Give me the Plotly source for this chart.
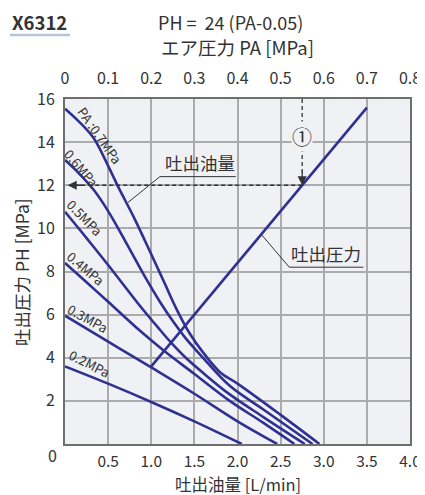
import plotly.graph_objects as go

# ---------------- data ----------------
# discharge flow rate [L/min] vs discharge pressure PH [MPa] for each air pressure PA
flow_07 = [0, 0.15, 0.33, 0.5, 0.62, 0.8, 1.0, 1.15, 1.3, 1.45, 1.6, 1.8, 2.0, 2.5, 2.95]
ph_07 = [15.55, 15.0, 14.2, 12.9, 11.9, 10.5, 8.8, 7.5, 6.2, 5.1, 4.25, 3.32, 2.8, 1.35, 0]

flow_06 = [0, 0.15, 0.33, 0.5, 0.7, 0.95, 1.1, 1.25, 1.4, 1.6, 1.91, 2.3, 2.87]
ph_06 = [13.17, 12.6, 11.8, 10.8, 9.4, 7.6, 6.6, 5.7, 4.9, 4.0, 2.7, 1.6, 0]

flow_05 = [0, 0.25, 0.5, 0.87, 1.1, 1.23, 1.4, 1.6, 1.91, 2.3, 2.78]
ph_05 = [10.77, 9.55, 8.3, 6.4, 5.3, 4.7, 4.0, 3.3, 2.3, 1.25, 0]

flow_04 = [0, 0.25, 0.5, 0.87, 1.14, 1.5, 1.91, 2.3, 2.66]
ph_04 = [8.4, 7.5, 6.6, 5.25, 4.35, 3.25, 2.0, 0.98, 0]

flow_03 = [0, 0.5, 1.0, 1.5, 2.0, 2.46]
ph_03 = [5.95, 4.75, 3.55, 2.33, 1.05, 0]

flow_02 = [0, 0.5, 1.0, 1.5, 2.05]
ph_02 = [3.6, 2.8, 1.95, 1.05, 0]

curve_labels = ["PA :0.7MPa", "0.6MPa", "0.5MPa", "0.4MPa", "0.3MPa", "0.2MPa"]

# discharge pressure line PH = 24 (PA - 0.05), on the top (air pressure) axis
pa_line = [0.2, 0.7]
ph_line = [3.6, 15.6]

# example reading (1): PA 0.55 MPa -> PH 12 MPa
ex_pa = 0.55
ex_ph = 12

bottom_ticks = [0.5, 1.0, 1.5, 2.0, 2.5, 3.0, 3.5, 4.0]
bottom_ticktext = ["0.5", "1.0", "1.5", "2.0", "2.5", "3.0", "3.5", "4.0"]
left_ticks = [2, 4, 6, 8, 10, 12, 14, 16]
top_ticks = [0, 0.1, 0.2, 0.3, 0.4, 0.5, 0.6, 0.7, 0.8]
top_ticktext = ["0", "0.1", "0.2", "0.3", "0.4", "0.5", "0.6", "0.7", "0.8"]

# ---------------- styling ----------------
BLUE = "#2E3192"
TXT = "#333333"
FONT = "Noto Sans CJK JP"
BG = "#F0F1F4"
GRID = "#ABABAB"
BORDER = "#6E6E6E"
CLEAR = "rgba(0,0,0,0)"

# plot area in page pixels (page body has an 8px offset)
PL, PT, PW, PH_ = 65, 99, 345, 345


def px(xp):
    return (xp - PL) / PW


def py(yp):
    return (PT + PH_ - yp) / PH_


fig = go.Figure()

curves = [(flow_07, ph_07), (flow_06, ph_06), (flow_05, ph_05),
          (flow_04, ph_04), (flow_03, ph_03), (flow_02, ph_02)]
for (fx, fy), name in zip(curves, curve_labels):
    fig.add_trace(go.Scatter(x=fx, y=fy, mode="lines", name=name,
                             line=dict(color=BLUE, width=2.6, shape="spline", smoothing=1.0),
                             hoverinfo="skip", showlegend=False))

fig.add_trace(go.Scatter(x=pa_line, y=ph_line, xaxis="x2", yaxis="y", mode="lines",
                         line=dict(color=BLUE, width=2.6), showlegend=False, hoverinfo="skip"))

# dashed reading lines
fig.add_trace(go.Scatter(x=[ex_pa, ex_pa], y=[16, ex_ph + 0.6], xaxis="x2", yaxis="y", mode="lines",
                         line=dict(color=TXT, width=1.3, dash="4px,3px"), showlegend=False, hoverinfo="skip"))
fig.add_trace(go.Scatter(x=[ex_pa, 0.02], y=[ex_ph, ex_ph], xaxis="x2", yaxis="y", mode="lines",
                         line=dict(color=TXT, width=1.3, dash="4px,3px"), showlegend=False, hoverinfo="skip"))

ann = []
# arrowheads
ann.append(dict(x=ex_pa, y=ex_ph, xref="x2", yref="y", ax=0, ay=-16, showarrow=True,
                arrowhead=2, arrowsize=1.4, arrowwidth=1.3, arrowcolor=TXT, text=""))
ann.append(dict(x=0.006, y=ex_ph, xref="x2", yref="y", ax=16, ay=0, showarrow=True,
                arrowhead=2, arrowsize=1.4, arrowwidth=1.3, arrowcolor=TXT, text=""))
# circled 1
ann.append(dict(x=ex_pa, y=14.25, xref="x2", yref="y", text="①", showarrow=False,
                xanchor="center", yanchor="middle",
                font=dict(family=FONT, size=20, color=TXT), bgcolor=BG, borderpad=0))

# curve labels (rotated)
label_pos = [(0.405, 14.3, 55), (0.2, 12.8, 50), (0.23, 10.5, 46),
             (0.245, 8.14, 40), (0.27, 5.82, 29), (0.29, 3.74, 27)]
for (lx, ly, ang), t in zip(label_pos, curve_labels):
    ann.append(dict(x=lx, y=ly, xref="x", yref="y", text=t, textangle=ang, showarrow=False,
                    xanchor="center", yanchor="middle",
                    font=dict(family=FONT, size=13, color=TXT)))

# callout texts
ann.append(dict(x=1.56, y=13.05, xref="x", yref="y", text="吐出油量", showarrow=False,
                xanchor="center", yanchor="middle",
                font=dict(family=FONT, size=17.5, color=TXT)))
ann.append(dict(x=3.03, y=8.83, xref="x", yref="y", text="吐出圧力", showarrow=False,
                xanchor="center", yanchor="middle",
                font=dict(family=FONT, size=17.5, color=TXT)))


# titles
def ptext(x, y, text, size, xanchor="center", angle=0):
    return dict(x=x, y=y, xref="paper", yref="paper", text=text, showarrow=False,
                xanchor=xanchor, yanchor="middle", textangle=angle,
                font=dict(family=FONT, size=size, color=TXT))


ann.append(ptext(px(237), py(47), "エア圧力 PA [MPa]", 18.5))
ann.append(ptext(px(230), py(22), "PH =  24 (PA-0.05)", 18))
ann.append(ptext(px(10), py(22), "<b>X6312</b>", 18.5, xanchor="left"))
ann.append(ptext(px(238), py(484), "吐出油量 [L/min]", 16.5))
ann.append(ptext(px(21), py(272), "吐出圧力 PH [MPa]", 17.5, angle=-90))
ann.append(ptext(px(52), py(455), "0", 16))

shapes = [
    # underline + leader for 吐出油量
    dict(type="line", xref="x", yref="y", x0=1.1, y0=12.4, x1=1.98, y1=12.4, line=dict(color=TXT, width=1)),
    dict(type="line", xref="x", yref="y", x0=1.1, y0=12.4, x1=0.73, y1=11.2, line=dict(color=TXT, width=1)),
    # underline + leader for 吐出圧力
    dict(type="line", xref="x", yref="y", x0=2.6, y0=8.2, x1=3.46, y1=8.2, line=dict(color=TXT, width=1)),
    dict(type="line", xref="x", yref="y", x0=2.6, y0=8.2, x1=2.28, y1=9.7, line=dict(color=TXT, width=1)),
    # header underline
    dict(type="line", xref="paper", yref="paper", x0=px(10), x1=px(70),
         y0=py(35), y1=py(35), line=dict(color="#B4C6D8", width=2.5)),
]

OFF = 8  # browser body margin
fig.update_layout(
    width=425, height=495,
    margin=dict(l=PL - OFF, r=425 - PL - PW + OFF, t=PT - OFF, b=495 - PT - PH_ + OFF),
    paper_bgcolor="white", plot_bgcolor=BG,
    font=dict(family=FONT, color=TXT),
    xaxis=dict(range=[0, 4], tickvals=bottom_ticks, ticktext=bottom_ticktext,
               showgrid=True, gridcolor=GRID, gridwidth=1.5, zeroline=False,
               showline=True, linecolor=BORDER, linewidth=2, mirror=True,
               ticks="outside", ticklen=2, tickcolor=CLEAR,
               tickfont=dict(size=15.5, color=TXT, family=FONT)),
    xaxis2=dict(range=[0, 0.8], overlaying="x", side="top", anchor="y",
                tickvals=top_ticks, ticktext=top_ticktext,
                showgrid=False, zeroline=False, showline=False,
                ticks="outside", ticklen=8, tickcolor=CLEAR,
                tickfont=dict(size=16, color=TXT, family=FONT)),
    yaxis=dict(range=[0, 16], tickvals=left_ticks, showgrid=True, gridcolor=GRID, gridwidth=1.5,
               zeroline=False, showline=True, linecolor=BORDER, linewidth=2, mirror=True,
               ticks="outside", ticklen=5, tickcolor=CLEAR,
               tickfont=dict(size=16, color=TXT, family=FONT)),
    annotations=ann,
    shapes=shapes,
    showlegend=False,
)

fig.write_html("out.html")
